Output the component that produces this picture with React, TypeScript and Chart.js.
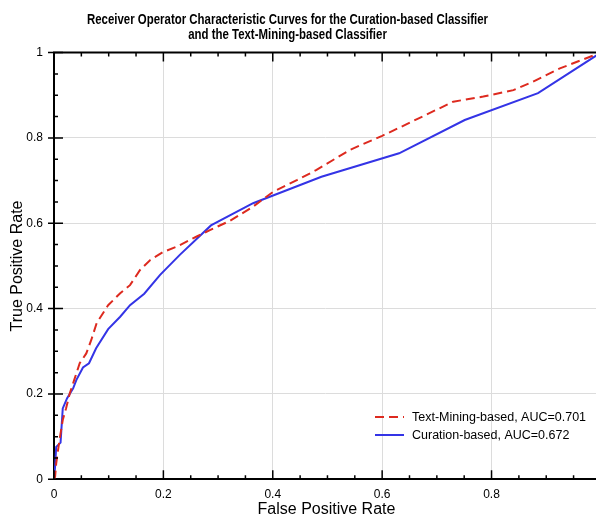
import React, { useEffect, useRef } from 'react';
import { Chart, registerables } from 'chart.js';

Chart.register(...registerables);

// ---- data ----
const textMiningFPR = [0, 0.002, 0.004, 0.010, 0.016, 0.022, 0.029, 0.037, 0.047, 0.059, 0.068, 0.078, 0.099, 0.121, 0.139, 0.157, 0.176, 0.2, 0.224, 0.261, 0.285, 0.322, 0.364, 0.401, 0.444, 0.48, 0.541, 0.6, 0.633, 0.73, 0.785, 0.84, 0.876, 0.925, 1];
const textMiningTPR = [0, 0.006, 0.037, 0.092, 0.139, 0.166, 0.202, 0.233, 0.272, 0.295, 0.326, 0.366, 0.408, 0.436, 0.455, 0.49, 0.514, 0.533, 0.545, 0.569, 0.584, 0.606, 0.639, 0.674, 0.701, 0.725, 0.772, 0.805, 0.825, 0.885, 0.897, 0.912, 0.932, 0.963, 1];
const curationFPR = [0, 0.002, 0.004, 0.012, 0.016, 0.024, 0.035, 0.041, 0.053, 0.064, 0.077, 0.099, 0.121, 0.139, 0.165, 0.194, 0.23, 0.287, 0.364, 0.489, 0.631, 0.751, 0.885, 1];
const curationTPR = [0, 0.03, 0.076, 0.086, 0.166, 0.19, 0.213, 0.233, 0.262, 0.272, 0.307, 0.352, 0.381, 0.408, 0.435, 0.479, 0.526, 0.595, 0.647, 0.709, 0.764, 0.842, 0.905, 1];

const seriesLabels = ['Text-Mining-based, AUC=0.701', 'Curation-based, AUC=0.672'];
const titleLines = [
  'Receiver Operator Characteristic Curves for the Curation-based Classifier',
  'and the Text-Mining-based Classifier',
];
const xAxisTitle = 'False Positive Rate';
const yAxisTitle = 'True Positive Rate';
const xTickValues = [0, 0.2, 0.4, 0.6, 0.8];
const yTickValues = [0, 0.2, 0.4, 0.6, 0.8, 1];
const minorStep = 0.05;
const xMax = 0.991;

const RED = '#dd2a1f';
const BLUE = '#3434e6';
const FONT = '"Liberation Sans", Arial, Helvetica, sans-serif';

const decorPlugin = {
  id: 'decor',
  afterDraw(chart: any) {
    const { ctx, chartArea } = chart;
    const xs = chart.scales.x;
    const ys = chart.scales.y;
    ctx.save();

    // top spine
    ctx.strokeStyle = '#000';
    ctx.lineWidth = 2;
    ctx.beginPath();
    ctx.moveTo(chartArea.left - 1, chartArea.top);
    ctx.lineTo(chartArea.right, chartArea.top);
    ctx.stroke();

    // ticks
    ctx.lineWidth = 1.5;
    ctx.beginPath();
    for (let v = 0; v <= xMax + 1e-9; v += minorStep) {
      const r = Math.round(v * 100) / 100;
      const px = xs.getPixelForValue(r);
      const major = xTickValues.some((t) => Math.abs(t - r) < 1e-6);
      const len = major ? 9 : 4;
      ctx.moveTo(px, chartArea.bottom);
      ctx.lineTo(px, chartArea.bottom - len);
      ctx.moveTo(px, chartArea.top);
      ctx.lineTo(px, chartArea.top + len);
    }
    for (let v = 0; v <= 1 + 1e-9; v += minorStep) {
      const r = Math.round(v * 100) / 100;
      const py = ys.getPixelForValue(r);
      const major = yTickValues.some((t) => Math.abs(t - r) < 1e-6);
      if (major) {
        ctx.moveTo(chartArea.left - 6, py);
        ctx.lineTo(chartArea.left + 9, py);
      } else {
        ctx.moveTo(chartArea.left, py);
        ctx.lineTo(chartArea.left + 4, py);
      }
    }
    ctx.stroke();

    // title (condensed bold)
    ctx.fillStyle = '#000';
    ctx.font = `bold 14px ${FONT}`;
    ctx.textBaseline = 'middle';
    ctx.textAlign = 'center';
    const w0 = ctx.measureText(titleLines[0]).width;
    const sx = 401 / w0;
    const cx = 287.5;
    const tys = [20, 35.5];
    titleLines.forEach((line, i) => {
      ctx.save();
      ctx.translate(cx, tys[i]);
      ctx.scale(sx, 1);
      ctx.fillText(line, 0, 0);
      ctx.restore();
    });

    // axis titles
    ctx.font = `16px ${FONT}`;
    ctx.fillText(xAxisTitle, 326.5, 510);
    ctx.save();
    ctx.translate(18, 266);
    ctx.rotate(-Math.PI / 2);
    ctx.fillText(yAxisTitle, 0, 0);
    ctx.restore();

    // legend
    ctx.font = `12.5px ${FONT}`;
    ctx.textAlign = 'left';
    const rows = [
      { label: seriesLabels[0], color: RED, dash: [9, 5], y: 417 },
      { label: seriesLabels[1], color: BLUE, dash: [], y: 435 },
    ];
    rows.forEach((r) => {
      ctx.strokeStyle = r.color;
      ctx.lineWidth = 2;
      ctx.setLineDash(r.dash);
      ctx.beginPath();
      ctx.moveTo(375, r.y);
      ctx.lineTo(404, r.y);
      ctx.stroke();
      ctx.setLineDash([]);
      ctx.fillStyle = '#000';
      ctx.fillText(r.label, 412, r.y + 0.5);
    });

    ctx.restore();
  },
};

export default function App() {
  const ref = useRef<HTMLCanvasElement | null>(null);
  useEffect(() => {
    if (!ref.current) return;
    const toPts = (xs: number[], ys: number[]) => xs.map((x, i) => ({ x, y: ys[i] }));
    const chart = new Chart(ref.current, {
      type: 'line',
      data: {
        datasets: [
          {
            label: seriesLabels[0],
            data: toPts(textMiningFPR, textMiningTPR),
            borderColor: RED,
            borderWidth: 2,
            borderDash: [9, 5],
            pointRadius: 0,
            tension: 0,
            fill: false,
          },
          {
            label: seriesLabels[1],
            data: toPts(curationFPR, curationTPR),
            borderColor: BLUE,
            borderWidth: 2,
            pointRadius: 0,
            tension: 0,
            fill: false,
          },
        ],
      },
      options: {
        animation: false,
        responsive: false,
        maintainAspectRatio: false,
        layout: { padding: { top: 52.6, left: 0, right: 0, bottom: 0 } },
        plugins: {
          legend: { display: false },
          title: { display: false },
          tooltip: { enabled: false },
        },
        scales: {
          x: {
            type: 'linear',
            min: 0,
            max: xMax,
            afterFit: (s: any) => { s.height = 518 - 479.3; },
            afterBuildTicks: (s: any) => { s.ticks = xTickValues.map((v) => ({ value: v })); },
            grid: { color: '#dcdcdc', lineWidth: 1, drawTicks: false },
            border: { color: '#000', width: 2 },
            ticks: {
              padding: 8,
              color: '#000',
              font: { family: FONT, size: 12 },
              maxRotation: 0,
              callback: (v: any) => String(v),
            },
          },
          y: {
            type: 'linear',
            min: 0,
            max: 1,
            afterFit: (s: any) => { s.width = 54; },
            afterBuildTicks: (s: any) => { s.ticks = yTickValues.map((v) => ({ value: v })); },
            grid: { color: '#dcdcdc', lineWidth: 1, drawTicks: false },
            border: { color: '#000', width: 2 },
            ticks: {
              padding: 11,
              color: '#000',
              font: { family: FONT, size: 12 },
              callback: (v: any) => String(v),
            },
          },
        },
      },
      plugins: [decorPlugin],
    });
    return () => chart.destroy();
  }, []);
  return (
    <div style={{ position: 'absolute', left: 0, top: 0, width: 596, height: 518, background: '#fff' }}>
      <canvas ref={ref} width={596} height={518} style={{ display: 'block' }} />
    </div>
  );
}
